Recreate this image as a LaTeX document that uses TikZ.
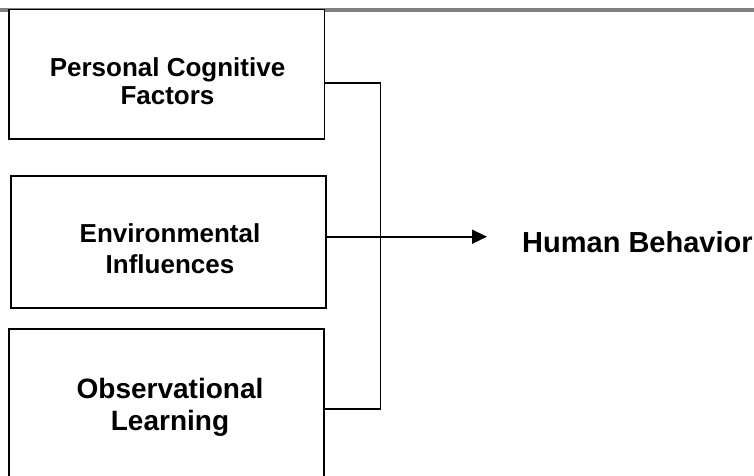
\documentclass[tikz,border=0pt]{standalone}
\usepackage{fontspec}
\setmainfont{Liberation Sans}
\usetikzlibrary{arrows.meta,calc}
\begin{document}
\begin{tikzpicture}[x=1pt,y=-1pt,
  boxstyle/.style={draw=black,line width=1.8pt,fill=white,inner sep=0pt},
  linkstyle/.style={draw=black,line width=1.6pt},
  labstyle/.style={inner sep=0pt,anchor=base,align=center,font=\bfseries},
  topbar/.style={draw={rgb,255:red,128;green,128;blue,128},line width=4pt}]
\useasboundingbox (0,0) rectangle (754,475);
\clip (0,0) rectangle (754,475);
% top rule
\coordinate (barL) at (0,10.3);
\coordinate (barR) at (754,10.3);
\draw[topbar] (barL) -- (barR);
% boxes
\node[boxstyle,minimum width=315.5pt,minimum height=129.5pt] (b1) at (166.75,74.25) {};
\node[boxstyle,minimum width=315pt,minimum height=132.3pt] (b2) at (168.5,241.85) {};
\node[boxstyle,minimum width=315pt,minimum height=161pt] (b3) at (166.5,409.5) {};
% box texts
\node[labstyle,font=\bfseries\fontsize{26}{28.6}\selectfont] (t1a) at (167.5,76) {Personal Cognitive};
\node[labstyle,font=\bfseries\fontsize{26}{28.6}\selectfont] (t1b) at (167.5,104.5) {Factors};
\node[labstyle,font=\bfseries\fontsize{26}{30.8}\selectfont] (t2a) at (170,242.5) {Environmental};
\node[labstyle,font=\bfseries\fontsize{26}{30.8}\selectfont] (t2b) at (170,273.3) {Influences};
\node[labstyle,font=\bfseries\fontsize{28}{32}\selectfont] (t3a) at (170,398) {Observational};
\node[labstyle,font=\bfseries\fontsize{28}{32}\selectfont] (t3b) at (170,430) {Learning};
% target text
\node[inner sep=0pt,anchor=base west,font=\bfseries\fontsize{29}{33}\selectfont] (hb) at (522,252) {Human Behavior};
% connectors
\coordinate (j1) at (380.5,83);
\coordinate (j3) at (380.5,409);
\coordinate (tip) at (487,236.7);
\draw[linkstyle] (b1.east |- j1) -- (j1) -- (j3) -- (b3.east |- j3);
\draw[linkstyle,-{Triangle[length=15pt,width=14pt]}] (b2.east |- tip) -- (tip);
\end{tikzpicture}
\end{document}
